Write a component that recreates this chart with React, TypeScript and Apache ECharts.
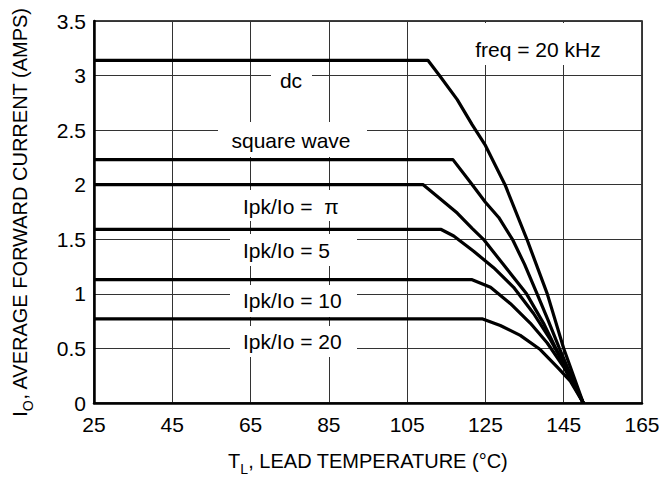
import React, { useEffect, useRef } from "react";
import * as echarts from "echarts";

// Lead temperature (°C) and average forward current (A) for each curve
const X_MIN = 25;
const X_MAX = 165;
const X_STEP = 20;
const Y_MAX = 3.5;
const Y_STEP = 0.5;

const dcT = [25, 110.3, 113.5, 117.8, 121.6, 125, 130, 135.6, 140.8, 145, 150];
const dcI = [3.14, 3.14, 2.99, 2.78, 2.55, 2.36, 2.0, 1.5, 1.0, 0.5, 0];

const sqT = [25, 116.7, 121.2, 125, 128.4, 131.9, 135, 138.2, 141, 143.9, 147, 150];
const sqI = [2.23, 2.23, 2.02, 1.84, 1.7, 1.5, 1.27, 1.0, 0.76, 0.5, 0.24, 0];

const piT = [25, 109.1, 113.5, 117.8, 121.6, 124.5, 130, 135.5, 140, 143, 146.5, 150];
const piI = [2.0, 2.0, 1.87, 1.74, 1.6, 1.5, 1.25, 1.0, 0.72, 0.5, 0.27, 0];

const p5T = [25, 113.7, 116.9, 122, 127.1, 132.2, 137.3, 141.6, 145.9, 150];
const p5I = [1.59, 1.59, 1.53, 1.39, 1.24, 1.06, 0.82, 0.58, 0.3, 0];

const p10T = [25, 121.6, 126.3, 131.4, 136.5, 140.8, 145, 150];
const p10I = [1.13, 1.13, 1.06, 0.91, 0.73, 0.55, 0.33, 0];

const p20T = [25, 124.3, 128.8, 133.9, 139, 143.3, 146.7, 150];
const p20I = [0.77, 0.77, 0.71, 0.62, 0.49, 0.33, 0.2, 0];

const seriesNames = ["dc", "square wave", "Ipk/Io = π", "Ipk/Io = 5", "Ipk/Io = 10", "Ipk/Io = 20"];
const seriesT = [dcT, sqT, piT, p5T, p10T, p20T];
const seriesI = [dcI, sqI, piI, p5I, p10I, p20I];

const FONT = '"Liberation Sans", Arial, Helvetica, sans-serif';

export default function App() {
  const ref = useRef<HTMLDivElement>(null);

  useEffect(() => {
    if (!ref.current) return;
    const chart = echarts.init(ref.current, undefined, { renderer: "svg" });

    // x is plotted as offset from X_MIN so that ticks start at 25
    const series = seriesNames.map((name, k) => ({
      name,
      type: "line" as const,
      data: seriesT[k].map((t, i) => [t - X_MIN, seriesI[k][i]]),
      symbol: "none",
      smooth: false,
      lineStyle: { color: "#000", width: 3.2, join: "round" },
      z: 3,
    }));

    const labelBox = (
      text: string,
      cx: number,
      cy: number,
      bx: number,
      by: number,
      bw: number,
      bh: number,
      align: string = "center"
    ) => ({
      type: "group",
      z: 1,
      children: [
        {
          type: "rect",
          z: 1,
          shape: { x: bx, y: by, width: bw, height: bh },
          style: { fill: "#fff" },
        },
        {
          type: "text",
          z: 2,
          style: {
            text,
            x: cx,
            y: cy,
            fill: "#000",
            font: `21px ${FONT}`,
            textAlign: align,
            textVerticalAlign: "middle",
          },
        },
      ],
    });

    const rich = {
      a: { fontSize: 20, fontFamily: FONT, color: "#000", lineHeight: 30, verticalAlign: "middle" },
      s: { fontSize: 14, fontFamily: FONT, color: "#000", lineHeight: 14, verticalAlign: "bottom" },
    };

    chart.setOption({
      animation: false,
      backgroundColor: "#fff",
      textStyle: { fontFamily: FONT },
      grid: {
        left: 94,
        right: 17,
        top: 21,
        bottom: 75,
        show: true,
        borderColor: "#000",
        borderWidth: 1.5,
        containLabel: false,
        outerBoundsMode: "none",
      },
      xAxis: {
        type: "value",
        min: 0,
        max: X_MAX - X_MIN,
        interval: X_STEP,
        name: "{a|T}{s|L}{a|, LEAD TEMPERATURE (°C)}",
        nameLocation: "middle",
        nameGap: 43,
        nameTextStyle: { rich },
        axisLine: { show: true, onZero: false, lineStyle: { color: "#000", width: 2.5 } },
        axisTick: { show: false },
        axisLabel: {
          color: "#000",
          fontSize: 21,
          fontFamily: FONT,
          margin: 11,
          formatter: (v: number) => String(v + X_MIN),
        },
        splitLine: { show: true, lineStyle: { color: "#333", width: 1 } },
      },
      yAxis: {
        type: "value",
        min: 0,
        max: Y_MAX,
        interval: Y_STEP,
        name: "{a|I}{s|O}{a|, AVERAGE FORWARD CURRENT (AMPS)}",
        nameLocation: "middle",
        nameRotate: 90,
        nameGap: 59,
        nameTextStyle: { rich },
        axisLine: { show: true, lineStyle: { color: "#000", width: 2.5 } },
        axisTick: { show: false },
        axisLabel: { color: "#000", fontSize: 21, fontFamily: FONT, margin: 8 },
        splitLine: { show: true, lineStyle: { color: "#333", width: 1 } },
      },
      series,
      graphic: [
        labelBox("dc", 291, 80, 271, 66, 41, 29),
        labelBox("square wave", 291, 140, 218, 122, 149, 35),
        labelBox("Ipk/Io =  π", 243, 206, 230, 190, 127, 31, "left"),
        labelBox("Ipk/Io = 5", 243, 250, 230, 234, 127, 32, "left"),
        labelBox("Ipk/Io = 10", 243, 300, 230, 285, 127, 32, "left"),
        labelBox("Ipk/Io = 20", 243, 341, 230, 326, 127, 31, "left"),
        labelBox("freq = 20 kHz", 538, 49, 466, 23, 150, 42),
      ],
    });

    return () => chart.dispose();
  }, []);

  return (
    <div
      ref={ref}
      style={{ position: "absolute", left: 0, top: 0, width: 659, height: 478, background: "#fff" }}
    />
  );
}
